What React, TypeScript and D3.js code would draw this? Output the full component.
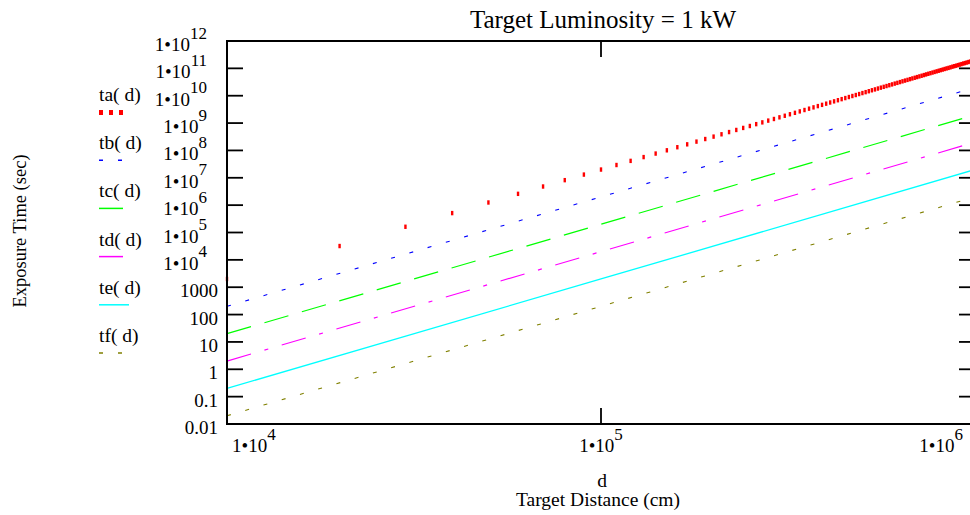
import * as d3 from 'd3';

// Target distance samples (cm) used by the ta(d) point trace
const distances = [
  1e4, 2e4, 3e4, 4e4, 5e4, 6e4, 7e4, 8e4, 9e4, 1e5,
  1.1e5, 1.2e5, 1.3e5, 1.4e5, 1.5e5, 1.6e5, 1.7e5, 1.8e5, 1.9e5, 2e5,
  2.1e5, 2.2e5, 2.3e5, 2.4e5, 2.5e5, 2.6e5, 2.7e5, 2.8e5, 2.9e5, 3e5,
  3.1e5, 3.2e5, 3.3e5, 3.4e5, 3.5e5, 3.6e5, 3.7e5, 3.8e5, 3.9e5, 4e5,
  4.1e5, 4.2e5, 4.3e5, 4.4e5, 4.5e5, 4.6e5, 4.7e5, 4.8e5, 4.9e5, 5e5,
  5.1e5, 5.2e5, 5.3e5, 5.4e5, 5.5e5, 5.6e5, 5.7e5, 5.8e5, 5.9e5, 6e5,
  6.1e5, 6.2e5, 6.3e5, 6.4e5, 6.5e5, 6.6e5, 6.7e5, 6.8e5, 6.9e5, 7e5,
  7.1e5, 7.2e5, 7.3e5, 7.4e5, 7.5e5, 7.6e5, 7.7e5, 7.8e5, 7.9e5, 8e5,
  8.1e5, 8.2e5, 8.3e5, 8.4e5, 8.5e5, 8.6e5, 8.7e5, 8.8e5, 8.9e5, 9e5,
  9.1e5, 9.2e5, 9.3e5, 9.4e5, 9.5e5, 9.6e5, 9.7e5, 9.8e5, 9.9e5, 1e6,
];

// ta(d) exposure times (sec), one per distance above
const ta = [
  2.00e3, 3.20e4, 1.62e5, 5.12e5, 1.25e6, 2.59e6, 4.80e6, 8.19e6, 1.31e7, 2.00e7,
  2.93e7, 4.15e7, 5.71e7, 7.68e7, 1.01e8, 1.31e8, 1.67e8, 2.10e8, 2.61e8, 3.20e8,
  3.89e8, 4.69e8, 5.60e8, 6.64e8, 7.81e8, 9.14e8, 1.06e9, 1.23e9, 1.41e9, 1.62e9,
  1.85e9, 2.10e9, 2.37e9, 2.67e9, 3.00e9, 3.36e9, 3.75e9, 4.17e9, 4.63e9, 5.12e9,
  5.65e9, 6.22e9, 6.84e9, 7.50e9, 8.20e9, 8.95e9, 9.76e9, 1.06e10, 1.15e10, 1.25e10,
  1.35e10, 1.46e10, 1.58e10, 1.70e10, 1.83e10, 1.97e10, 2.11e10, 2.26e10, 2.42e10, 2.59e10,
  2.77e10, 2.95e10, 3.15e10, 3.36e10, 3.57e10, 3.79e10, 4.03e10, 4.28e10, 4.53e10, 4.80e10,
  5.08e10, 5.37e10, 5.68e10, 6.00e10, 6.33e10, 6.67e10, 7.03e10, 7.40e10, 7.79e10, 8.19e10,
  8.61e10, 9.04e10, 9.49e10, 9.96e10, 1.04e11, 1.09e11, 1.15e11, 1.20e11, 1.25e11, 1.31e11,
  1.37e11, 1.43e11, 1.50e11, 1.56e11, 1.63e11, 1.70e11, 1.77e11, 1.84e11, 1.92e11, 2.00e11,
];

// the other traces are straight in log-log; read at the decade distances
const lineDistances = [1e4, 1e5, 1e6];
const tb = [2e2, 2e6, 2e10];
const tc = [2e1, 2e5, 2e9];
const td = [2, 2e4, 2e8];
const te = [0.2, 2e3, 2e7];
const tf = [0.02, 2e2, 2e6];

const yTickValues = [1e-2, 1e-1, 1, 10, 100, 1000, 1e4, 1e5, 1e6, 1e7, 1e8, 1e9, 1e10, 1e11, 1e12];
const yTickPlain = ['0.01', '0.1', '1', '10', '100', '1000'];
const yTickExp = ['4', '5', '6', '7', '8', '9', '10', '11', '12'];
const xTickValues = [1e4, 1e5, 1e6];
const xTickExp = ['4', '5', '6'];

const W = 970;
const H = 515;
const FONT = 'Liberation Serif, Times New Roman, Times, DejaVu Serif, serif';
const plot = { left: 227, right: 975, top: 41, bottom: 424 };

const lineSeries = [
  { name: 'tb', values: tb, color: '#0000ff', dash: '4,15', width: 1.1 },
  { name: 'tc', values: tc, color: '#00ff00', dash: '25,14', width: 1.2 },
  { name: 'td', values: td, color: '#ff00ff', dash: '25,14,4,14', width: 1.2 },
  { name: 'te', values: te, color: '#00ffff', dash: null, width: 1.3 },
  { name: 'tf', values: tf, color: '#808000', dash: '4,15', width: 1.1 },
];

function Label(props: any) {
  return <text fontFamily={FONT} fill="#000" {...props} />;
}

export default function App() {
  const x = d3.scaleLog().domain([1e4, 1e6]).range([plot.left, plot.right]);
  const y = d3.scaleLog().domain([1e-2, 1e12]).range([plot.bottom, plot.top]);

  const line = d3.line<[number, number]>()
    .x(d => x(d[0]))
    .y(d => y(d[1]));

  const tickLen = 16;

  // legend
  const legendX = 99;
  const legendNames = ['ta', 'tb', 'tc', 'td', 'te', 'tf'];
  const legendBase = 101;
  const legendStep = 48.2;

  return (
    <svg width={W} height={H} style={{ position: 'absolute', left: 0, top: 0, background: '#fff' }}>
      {/* title */}
      <Label x={603} y={28} textAnchor="middle" fontSize={25}>Target Luminosity = 1 kW</Label>

      {/* traces */}
      {lineSeries.map(s => (
        <path key={s.name}
          d={line(lineDistances.map((dd, i) => [dd, s.values[i]] as [number, number])) || ''}
          fill="none" stroke={s.color} strokeWidth={s.width}
          strokeDasharray={s.dash || undefined} />
      ))}
      {distances.map((dd, i) => (
        <rect key={i} x={x(dd) - 1.2} y={y(ta[i]) - 2.2} width={2.4} height={4.4} fill="#ff0000" />
      ))}

      {/* frame */}
      <rect x={plot.left} y={plot.top} width={plot.right - plot.left} height={plot.bottom - plot.top}
        fill="none" stroke="#000" strokeWidth={2} />

      {/* y ticks */}
      {yTickValues.map(v => (
        <g key={v}>
          <line x1={plot.left} x2={plot.left + tickLen} y1={y(v)} y2={y(v)} stroke="#000" strokeWidth={1.8} />
          <line x1={plot.right - tickLen} x2={plot.right} y1={y(v)} y2={y(v)} stroke="#000" strokeWidth={1.8} />
        </g>
      ))}
      {yTickValues.map((v, i) => i < yTickPlain.length ? (
        <Label key={'yl' + v} x={218} y={y(v) + 10} textAnchor="end" fontSize={19}>
          {yTickPlain[i]}
        </Label>
      ) : (
        <Label key={'yl' + v} x={207} y={y(v) + 10} textAnchor="end" fontSize={19}>
          1•10<tspan dy={-12.5} fontSize={17}>{yTickExp[i - yTickPlain.length]}</tspan>
        </Label>
      ))}

      {/* x ticks */}
      {xTickValues.map(v => (
        <g key={'xt' + v}>
          <line x1={x(v)} x2={x(v)} y1={plot.bottom} y2={plot.bottom - tickLen} stroke="#000" strokeWidth={1.8} />
          <line x1={x(v)} x2={x(v)} y1={plot.top} y2={plot.top + tickLen} stroke="#000" strokeWidth={1.8} />
        </g>
      ))}
      {xTickValues.map((v, i) => {
        const last = i === xTickValues.length - 1;
        const anchor = i === 0 ? 'start' : last ? 'end' : 'middle';
        const tx = i === 0 ? x(v) + 5 : last ? x(v) - 12 : x(v);
        return (
          <Label key={'xl' + v} x={tx} y={plot.bottom + 28} textAnchor={anchor} fontSize={19}>
            1•10<tspan dy={-12} fontSize={17}>{xTickExp[i]}</tspan>
          </Label>
        );
      })}

      {/* axis titles */}
      <Label x={602} y={487} textAnchor="middle" fontSize={19.5}>d</Label>
      <Label x={598} y={506} textAnchor="middle" fontSize={19.5}>Target Distance (cm)</Label>
      <Label transform={`translate(26,231) rotate(-90)`} textAnchor="middle" fontSize={18.5}>
        Exposure Time (sec)
      </Label>

      {/* legend */}
      {legendNames.map((n, i) => (
        <Label key={'lg' + n} x={legendX} y={legendBase + i * legendStep} fontSize={19.5}>
          {n}( d)
        </Label>
      ))}
      {[0, 1, 2].map(k => (
        <rect key={'lgd' + k} x={legendX + k * 10} y={legendBase + 9} width={4} height={5} fill="#ff0000" />
      ))}
      {lineSeries.map((s, i) => {
        const ly = legendBase + (i + 1) * legendStep + 11;
        return (
          <line key={'ll' + s.name} x1={legendX} x2={legendX + (s.name === 'te' ? 30 : 24)} y1={ly} y2={ly}
            stroke={s.color} strokeWidth={1.5}
            strokeDasharray={s.name === 'tb' || s.name === 'tf' ? '4,15' : undefined} />
        );
      })}
    </svg>
  );
}
